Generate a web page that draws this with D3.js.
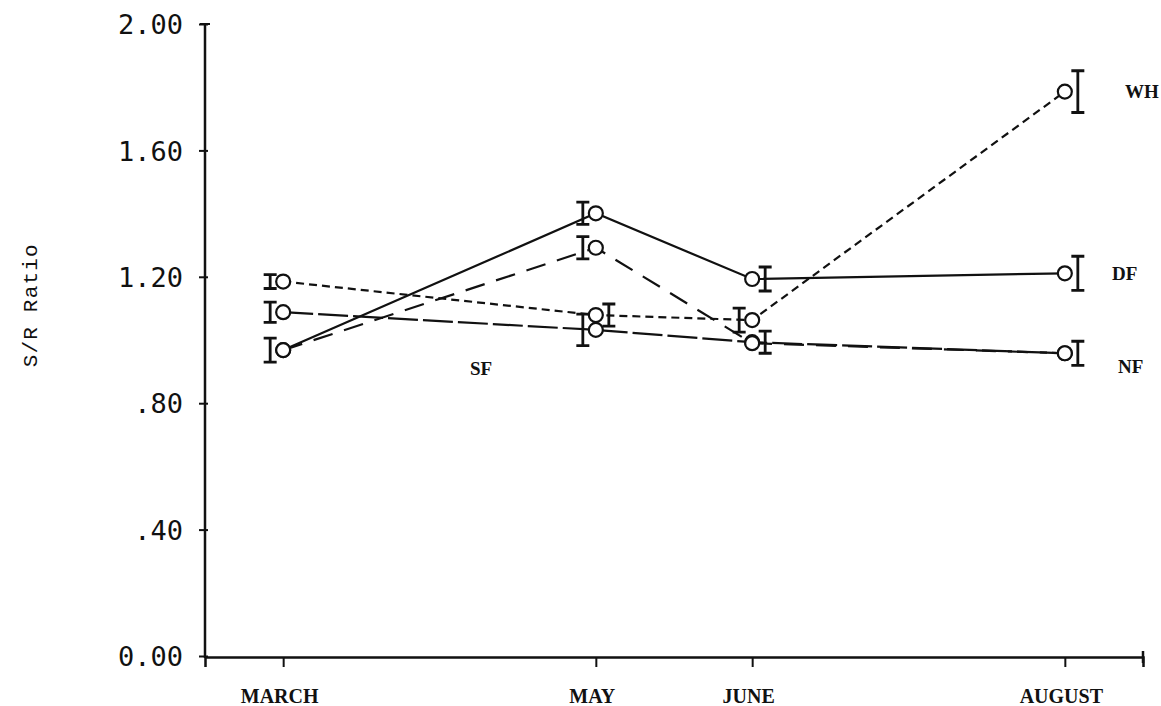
<!DOCTYPE html>
<html>
<head>
<meta charset="utf-8">
<script src="https://cdn.jsdelivr.net/npm/d3@7"></script>
<style>
  html, body { margin: 0; padding: 0; background: #fff; }
  svg { display: block; }
</style>
</head>
<body>
<svg id="chart" width="1161" height="706"></svg>
<script>
// Sampling months (month number) and their axis labels
const months = [3, 5, 6, 8];
const monthLabels = ["MARCH", "MAY", "JUNE", "AUGUST"];

// Y axis tick values and their printed labels
const yTicks = [0, 0.4, 0.8, 1.2, 1.6, 2.0];
const yTickLabels = ["0.00", ".40", ".80", "1.20", "1.60", "2.00"];

// S/R ratio means per site, March..August
const whValues = [1.185, 1.079, 1.063, 1.786];
const dfValues = [0.968, 1.401, 1.193, 1.211];
const nfValues = [1.088, 1.032, 0.993, 0.958];
const sfValues = [0.968, 1.292, 0.990, 0.958];

// Half-length of the error bar for each point (null = no bar drawn)
const whErr = [0.022, 0.035, 0.038, 0.066];
const dfErr = [0.038, 0.035, 0.038, 0.054];
const nfErr = [0.032, 0.050, 0.035, 0.038];
const sfErr = [null, 0.035, null, null];

// Which side of the marker the error bar sits on (-1 left, +1 right)
const whSide = [-1, 1, -1, 1];
const dfSide = [-1, -1, 1, 1];
const nfSide = [-1, -1, 1, 1];
const sfSide = [-1, -1, 1, 1];

const seriesNames = ["WH", "DF", "NF", "SF"];

const series = [
  { name: "DF", values: dfValues, err: dfErr, side: dfSide, dash: null },
  { name: "NF", values: nfValues, err: nfErr, side: nfSide, dash: "30,5" },
  { name: "SF", values: sfValues, err: sfErr, side: sfSide, dash: "20,12" },
  { name: "WH", values: whValues, err: whErr, side: whSide, dash: "8,5" }
];

const svg = d3.select("#chart");

const x = d3.scaleLinear().domain([2.5, 8.5]).range([205, 1143]);
const y = d3.scaleLinear().domain([0, 2]).range([656, 24]);

const ink = "#111";

// ---- Y axis ----
const yAxis = d3.axisLeft(y)
  .tickValues(yTicks)
  .tickFormat((d, i) => yTickLabels[i])
  .tickSizeOuter(0)
  .tickSize(7)
  .tickPadding(15);

const gy = svg.append("g").attr("transform", `translate(${x(2.5)},0)`).call(yAxis);
gy.select(".domain").attr("stroke", ink).attr("stroke-width", 2.5)
  .attr("d", `M0,${y(0) + 2}V${y(2) - 1}`);
gy.selectAll(".tick line").attr("stroke", ink).attr("stroke-width", 2)
  .attr("x1", 3).attr("x2", -6);
gy.selectAll(".tick text")
  .attr("fill", ink)
  .attr("dy", "0.36em")
  .style("font-family", "'DejaVu Sans Mono', monospace")
  .style("font-size", "27px")
  .style("font-weight", "500");

// cap at the top of the axis
svg.append("line")
  .attr("x1", x(2.5) - 5).attr("x2", x(2.5) + 5)
  .attr("y1", y(2)).attr("y2", y(2))
  .attr("stroke", ink).attr("stroke-width", 2);

// ---- X axis ----
const xAxis = d3.axisBottom(x)
  .tickValues(months)
  .tickFormat((d, i) => monthLabels[i])
  .tickSizeOuter(0)
  .tickSize(10);

const gx = svg.append("g").attr("transform", `translate(0,${y(0) + 1})`).call(xAxis);
gx.select(".domain").attr("stroke", ink).attr("stroke-width", 2.5);
gx.selectAll(".tick line").attr("stroke", ink).attr("stroke-width", 2);
gx.selectAll(".tick text")
  .attr("fill", ink)
  .attr("y", 32)
  .attr("x", -4)
  .style("font-family", "'Liberation Serif', 'Times New Roman', serif")
  .style("font-weight", "bold")
  .style("font-size", "20px");

// end tick at the right of the x axis
svg.append("line")
  .attr("x1", x(8.5)).attr("x2", x(8.5))
  .attr("y1", y(0) - 5).attr("y2", y(0) + 7)
  .attr("stroke", ink).attr("stroke-width", 2.5);

// ---- Y axis title ----
svg.append("text")
  .attr("transform", `translate(37,${y(1.11)}) rotate(-90)`)
  .attr("text-anchor", "middle")
  .attr("fill", ink)
  .style("font-family", "'Liberation Mono', 'Courier New', monospace")
  .style("font-size", "21px")
  .style("letter-spacing", "1.2px")
  .text("S/R Ratio");

// ---- Series lines ----
const line = d3.line()
  .x((d, i) => x(months[i]))
  .y(d => y(d));

series.forEach(s => {
  svg.append("path")
    .datum(s.values)
    .attr("d", line)
    .attr("fill", "none")
    .attr("stroke", ink)
    .attr("stroke-width", 2.2)
    .attr("stroke-dasharray", s.dash);
});

// ---- Markers ----
series.forEach(s => {
  const g = svg.append("g");
  s.values.forEach((v, i) => {
    g.append("circle")
      .attr("cx", x(months[i]))
      .attr("cy", y(v))
      .attr("r", 7)
      .attr("fill", "#fff")
      .attr("stroke", ink)
      .attr("stroke-width", 2.2);
  });
});

// ---- Error bars ("I" shapes beside each marker) ----
series.forEach(s => {
  s.values.forEach((v, i) => {
    const e = s.err[i];
    if (e == null) return;
    const cx = x(months[i]) + s.side[i] * 13;
    const y1 = y(v + e), y2 = y(v - e);
    svg.append("path")
      .attr("d", `M${cx},${y1}V${y2}M${cx - 6.5},${y1}H${cx + 6.5}M${cx - 6.5},${y2}H${cx + 6.5}`)
      .attr("fill", "none")
      .attr("stroke", ink)
      .attr("stroke-width", 2.8);
  });
});

// ---- Series labels ----
const labelStyle = sel => sel
  .attr("fill", ink)
  .style("font-family", "'Liberation Serif', 'Times New Roman', serif")
  .style("font-weight", "bold")
  .style("font-size", "19px");

const labelPos = {
  WH: { x: 1125, v: whValues[3] },
  DF: { x: 1112, v: dfValues[3] },
  NF: { x: 1118, v: nfValues[3] - 0.04 },
  SF: { x: 470, v: 0.91 }
};
seriesNames.forEach(n => {
  svg.append("text")
    .attr("x", labelPos[n].x)
    .attr("y", y(labelPos[n].v))
    .attr("dy", "0.35em")
    .call(labelStyle)
    .text(n);
});
</script>
</body>
</html>
